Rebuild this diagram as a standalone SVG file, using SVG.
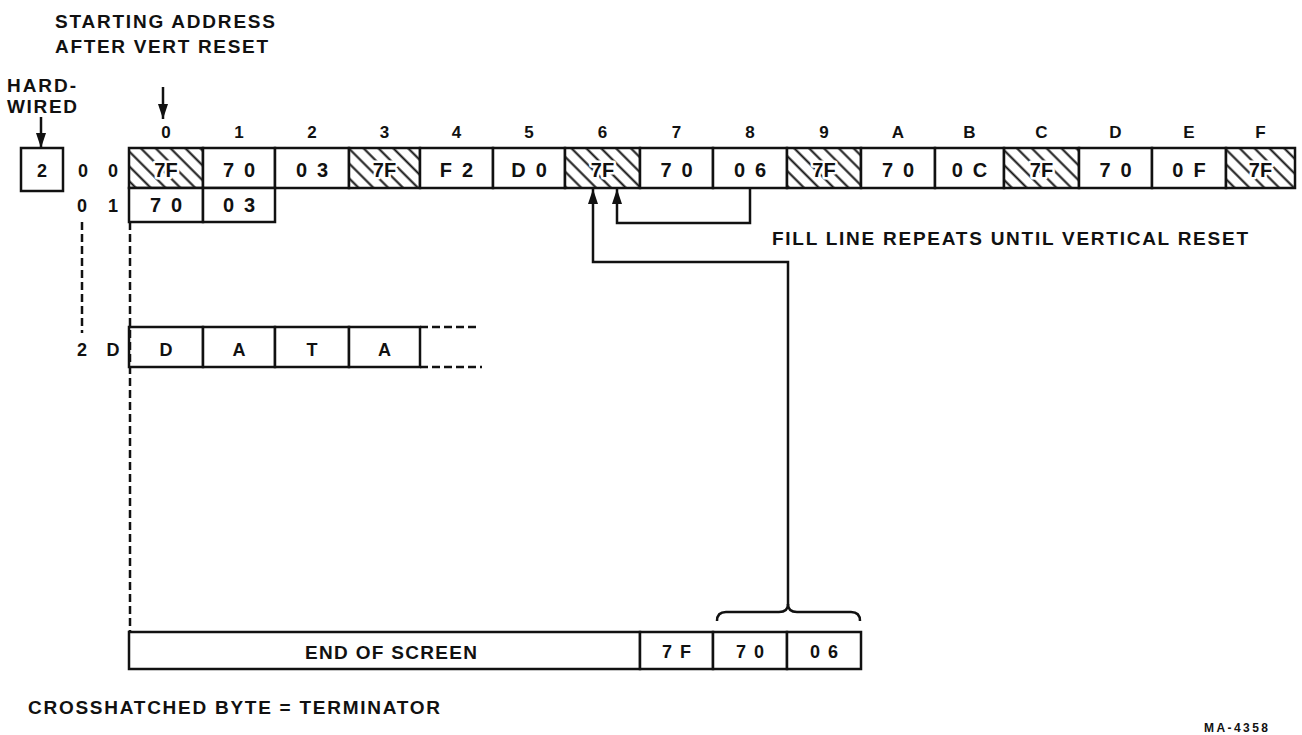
<svg xmlns="http://www.w3.org/2000/svg" width="1302" height="735" viewBox="0 0 1302 735">
<style>
text{font-family:"Liberation Sans",Arial,sans-serif;font-weight:bold;fill:#111}
.lbl{font-size:19px}
.col{font-size:17px;text-anchor:middle}
.val{font-size:20px;text-anchor:middle;letter-spacing:10px}
.term{font-size:20px;text-anchor:middle;stroke:#fff;stroke-width:5px;paint-order:stroke;stroke-linejoin:round}
.small{font-size:18px;text-anchor:middle;letter-spacing:8px}
.row{font-size:18px;text-anchor:middle}
.cell{fill:#fff;stroke:#111;stroke-width:2.5}
.hat{fill:url(#hatch);stroke:#111;stroke-width:2.5}
.ln{fill:none;stroke:#111;stroke-width:2.5}
.dash{fill:none;stroke:#111;stroke-width:2.5;stroke-dasharray:8 4}
</style>
<defs>
<pattern id="hatch" patternUnits="userSpaceOnUse" width="10.5" height="10.5" patternTransform="rotate(-45)">
<rect width="10.5" height="10.5" fill="#fff"/>
<line x1="5.25" y1="0" x2="5.25" y2="10.5" stroke="#111" stroke-width="2"/>
</pattern>
<marker id="ah" viewBox="0 0 15 10" refX="15" refY="5" markerWidth="15" markerHeight="10" markerUnits="userSpaceOnUse" orient="auto">
<path d="M0,0 L15,5 L0,10 z" fill="#111"/>
</marker>
</defs>
<rect width="1302" height="735" fill="#fff"/>

<g id="title">
<text class="lbl" x="55" y="28" textLength="220" lengthAdjust="spacing">STARTING ADDRESS</text>
<text class="lbl" x="55" y="53" textLength="213" lengthAdjust="spacing">AFTER VERT RESET</text>
</g>
<g id="hardwired-label">
<text class="lbl" x="7" y="92" textLength="69" lengthAdjust="spacing">HARD-</text>
<text class="lbl" x="7" y="113" textLength="70" lengthAdjust="spacing">WIRED</text>
</g>

<g id="hardwired-box">
<rect class="cell" x="21" y="148" width="42" height="43"/>
<text class="row" x="42" y="177">2</text>
</g>

<g id="column-labels">
<text class="col" x="166" y="138">0</text>
<text class="col" x="239" y="138">1</text>
<text class="col" x="312" y="138">2</text>
<text class="col" x="384.5" y="138">3</text>
<text class="col" x="456.5" y="138">4</text>
<text class="col" x="529" y="138">5</text>
<text class="col" x="602.5" y="138">6</text>
<text class="col" x="676.5" y="138">7</text>
<text class="col" x="750" y="138">8</text>
<text class="col" x="824" y="138">9</text>
<text class="col" x="898" y="138">A</text>
<text class="col" x="969.5" y="138">B</text>
<text class="col" x="1041.5" y="138">C</text>
<text class="col" x="1115.5" y="138">D</text>
<text class="col" x="1189" y="138">E</text>
<text class="col" x="1260.5" y="138">F</text>
</g>

<g id="row-labels">
<text class="row" x="83" y="177">0</text><text class="row" x="113" y="177">0</text>
<text class="row" x="82" y="212">0</text><text class="row" x="113" y="212">1</text>
<text class="row" x="82" y="356">2</text><text class="row" x="113" y="356">D</text>
</g>

<g id="row00">
<g id="c00-0"><rect class="hat" x="129" y="148" width="74" height="40"/><text class="term" x="166" y="177">7F</text></g>
<g id="c00-1"><rect class="cell" x="203" y="148" width="72" height="40"/><text class="val" x="244" y="177">70</text></g>
<g id="c00-2"><rect class="cell" x="275" y="148" width="74" height="40"/><text class="val" x="317" y="177">03</text></g>
<g id="c00-3"><rect class="hat" x="349" y="148" width="71" height="40"/><text class="term" x="384.5" y="177">7F</text></g>
<g id="c00-4"><rect class="cell" x="420" y="148" width="73" height="40"/><text class="val" x="461.5" y="177">F2</text></g>
<g id="c00-5"><rect class="cell" x="493" y="148" width="72" height="40"/><text class="val" x="534" y="177">D0</text></g>
<g id="c00-6"><rect class="hat" x="565" y="148" width="75" height="40"/><text class="term" x="602.5" y="177">7F</text></g>
<g id="c00-7"><rect class="cell" x="640" y="148" width="73" height="40"/><text class="val" x="681.5" y="177">70</text></g>
<g id="c00-8"><rect class="cell" x="713" y="148" width="74" height="40"/><text class="val" x="755" y="177">06</text></g>
<g id="c00-9"><rect class="hat" x="787" y="148" width="74" height="40"/><text class="term" x="824" y="177">7F</text></g>
<g id="c00-A"><rect class="cell" x="861" y="148" width="74" height="40"/><text class="val" x="903" y="177">70</text></g>
<g id="c00-B"><rect class="cell" x="935" y="148" width="69" height="40"/><text class="val" x="974.5" y="177">0C</text></g>
<g id="c00-C"><rect class="hat" x="1004" y="148" width="75" height="40"/><text class="term" x="1041.5" y="177">7F</text></g>
<g id="c00-D"><rect class="cell" x="1079" y="148" width="73" height="40"/><text class="val" x="1120.5" y="177">70</text></g>
<g id="c00-E"><rect class="cell" x="1152" y="148" width="74" height="40"/><text class="val" x="1194" y="177">0F</text></g>
<g id="c00-F"><rect class="hat" x="1226" y="148" width="69" height="40"/><text class="term" x="1260.5" y="177">7F</text></g>
</g>

<g id="row01">
<g id="c01-0"><rect class="cell" x="129" y="188" width="74" height="34"/><text class="val" x="171" y="212">70</text></g>
<g id="c01-1"><rect class="cell" x="203" y="188" width="72" height="34"/><text class="val" x="244" y="212">03</text></g>
</g>

<g id="row2D">
<line class="dash" x1="420" y1="327" x2="478" y2="327"/>
<line class="dash" x1="420" y1="367" x2="482" y2="367"/>
<g id="c2D-0"><rect class="cell" x="129" y="327" width="74" height="40"/><text class="row" x="166" y="356">D</text></g>
<g id="c2D-1"><rect class="cell" x="203" y="327" width="72" height="40"/><text class="row" x="239" y="356">A</text></g>
<g id="c2D-2"><rect class="cell" x="275" y="327" width="74" height="40"/><text class="row" x="312" y="356">T</text></g>
<g id="c2D-3"><rect class="cell" x="349" y="327" width="71" height="40"/><text class="row" x="384.5" y="356">A</text></g>
</g>

<g id="end-row">
<g id="end-of-screen"><rect class="cell" x="129" y="632" width="511" height="37"/><text class="lbl" x="305" y="659" textLength="172" lengthAdjust="spacing">END OF SCREEN</text></g>
<g id="end-7F"><rect class="cell" x="640" y="632" width="73" height="37"/><text class="small" x="680.5" y="658">7F</text></g>
<g id="end-70"><rect class="cell" x="713" y="632" width="74" height="37"/><text class="small" x="754" y="658">70</text></g>
<g id="end-06"><rect class="cell" x="787" y="632" width="74" height="37"/><text class="small" x="828" y="658">06</text></g>
</g>

<g id="connectors">
<line class="ln" x1="41" y1="117" x2="41" y2="148" marker-end="url(#ah)"/>
<line class="ln" x1="163" y1="87" x2="163" y2="119" marker-end="url(#ah)"/>
<line class="dash" x1="82" y1="222" x2="82" y2="333"/>
<line class="dash" x1="130" y1="222" x2="130" y2="633"/>
<path class="ln" d="M750 188 L750 223 L617 223 L617 189" marker-end="url(#ah)"/>
<path class="ln" d="M788 605 L788 262 L593 262 L593 189" marker-end="url(#ah)"/>
<path class="ln" d="M717 621 Q717 612 726 612 L779 612 Q788 612 788 604 Q788 612 797 612 L851 612 Q860 612 860 621"/>
</g>

<g id="notes">
<text class="lbl" x="772" y="245" textLength="476" lengthAdjust="spacing">FILL LINE REPEATS UNTIL VERTICAL RESET</text>
<text class="lbl" x="28" y="714" textLength="412" lengthAdjust="spacing">CROSSHATCHED  BYTE = TERMINATOR</text>
<text x="1204" y="732" style="font-size:12px" textLength="64" lengthAdjust="spacing">MA-4358</text>
</g>
</svg>
